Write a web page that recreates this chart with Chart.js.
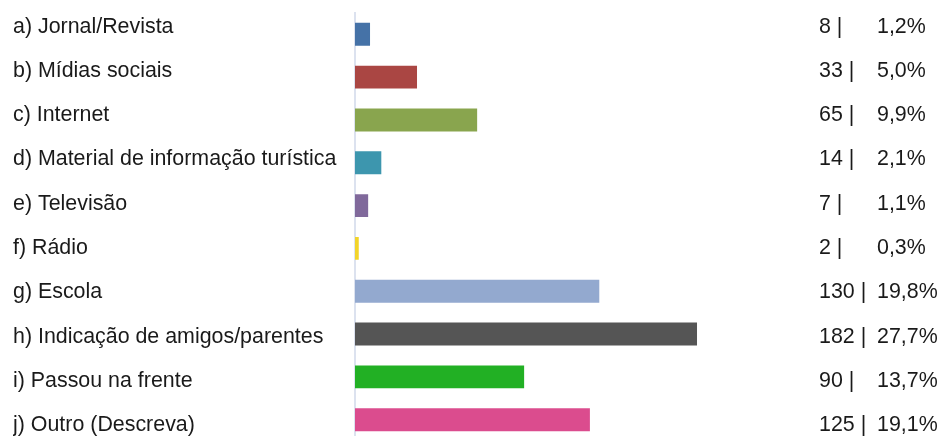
<!DOCTYPE html>
<html>
<head>
<meta charset="utf-8">
<script src="https://cdn.jsdelivr.net/npm/chart.js@4.4.1/dist/chart.umd.min.js"></script>
<style>
  html, body { margin: 0; padding: 0; background: #fff; overflow: hidden; }
</style>
</head>
<body>
<canvas id="chartOrigem" width="940" height="454"></canvas>
<script>
const categorias = [
  'a) Jornal/Revista',
  'b) Mídias sociais',
  'c) Internet',
  'd) Material de informação turística',
  'e) Televisão',
  'f) Rádio',
  'g) Escola',
  'h) Indicação de amigos/parentes',
  'i) Passou na frente',
  'j) Outro (Descreva)'
];
const respostas = [8, 33, 65, 14, 7, 2, 130, 182, 90, 125];
const percentuais = ['1,2%', '5,0%', '9,9%', '2,1%', '1,1%', '0,3%', '19,8%', '27,7%', '13,7%', '19,1%'];
const cores = ['#4572a7', '#aa4643', '#89a54e', '#3d96ae', '#80699b', '#f2d42a', '#93a9cf', '#555555', '#22b024', '#db4c8e'];

const fonte = { family: '"Liberation Sans", Arial, sans-serif', size: 21.4 };
const corTexto = '#1a1a1a';

// escreve "n |" e a porcentagem na coluna da direita, na mesma linha do rótulo
const valoresDireita = {
  id: 'valoresDireita',
  afterDraw(chart) {
    const ctx = chart.ctx;
    const eixo = chart.scales.rotulos;
    const area = chart.chartArea;
    ctx.save();
    ctx.font = fonte.size + 'px ' + fonte.family;
    ctx.fillStyle = corTexto;
    ctx.textBaseline = 'middle';
    ctx.textAlign = 'left';
    respostas.forEach((n, i) => {
      const y = eixo.getPixelForValue(i);
      ctx.fillText(n + ' |', area.right + 13, y);
      ctx.fillText(percentuais[i], area.right + 71, y);
    });
    ctx.restore();
  }
};

new Chart(document.getElementById('chartOrigem'), {
  type: 'bar',
  data: {
    labels: categorias,
    datasets: [{
      data: respostas,
      backgroundColor: cores,
      borderWidth: 0,
      barPercentage: 0.535,
      categoryPercentage: 1
    }]
  },
  options: {
    indexAxis: 'y',
    responsive: false,
    animation: false,
    devicePixelRatio: 1,
    layout: { padding: { left: 13, right: 134, top: 12.5, bottom: 12.5 } },
    plugins: { legend: { display: false }, tooltip: { enabled: false } },
    scales: {
      x: { display: false, min: 0, max: 240 },
      y: { display: false },
      rotulos: {
        type: 'linear',
        position: 'left',
        reverse: true,
        offset: false,
        min: -0.314,
        max: 9.358,
        grid: { display: false },
        border: { display: true, color: '#dce2ef', width: 2 },
        afterBuildTicks: (s) => { s.ticks = categorias.map((c, i) => ({ value: i })); },
        afterFit: (s) => { s.width = 342; },
        ticks: {
          autoSkip: false,
          crossAlign: 'far',
          padding: 0,
          color: corTexto,
          font: fonte,
          callback: (v) => categorias[v]
        }
      }
    }
  },
  plugins: [valoresDireita]
});
</script>
</body>
</html>
